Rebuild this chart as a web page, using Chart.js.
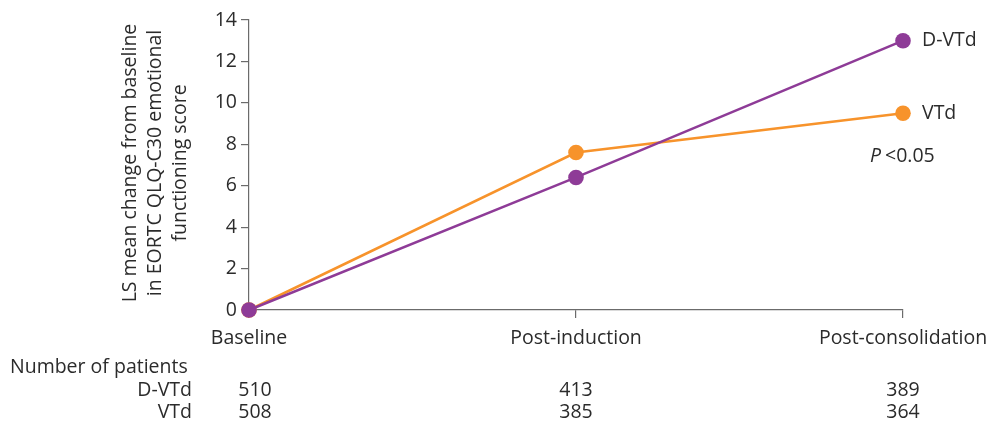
<!DOCTYPE html>
<html>
<head>
<meta charset="utf-8">
<script src="https://cdn.jsdelivr.net/npm/chart.js@4"></script>
<style>
html,body{margin:0;padding:0;background:#fff;}
#wrap{width:993px;height:423px;position:relative;}
</style>
</head>
<body>
<div id="wrap"><canvas id="c" width="993" height="423"></canvas></div>
<script>
const categories = ["Baseline", "Post-induction", "Post-consolidation"];
const dvtdValues = [0, 6.4, 13.0];
const vtdValues = [0, 7.6, 9.5];
const yTicks = [0, 2, 4, 6, 8, 10, 12, 14];
const seriesNames = ["D-VTd", "VTd"];
const dvtdPatients = [510, 413, 389];
const vtdPatients = [508, 385, 364];
const yTitle = ["LS mean change from baseline", "in EORTC QLQ-C30 emotional", "functioning score"];
const pText = "<0.05";

const PURPLE = "#8e3b97";
const ORANGE = "#f7932b";
const AXIS = "#6b6b6b";
const TXT = "#2b2b2b";
const FONT = "Open Sans";
const FS = 19.5;

const extras = {
  id: "extras",
  afterDraw(chart) {
    const ctx = chart.ctx;
    const x = chart.scales.x, y = chart.scales.y;
    ctx.save();
    ctx.fillStyle = TXT;
    ctx.font = FS + "px '" + FONT + "'";
    // y title
    ctx.save();
    ctx.translate(155, 163);
    ctx.rotate(-Math.PI / 2);
    ctx.textAlign = "center";
    ctx.textBaseline = "middle";
    yTitle.forEach((t, i) => ctx.fillText(t, 0, (i - 1) * 25));
    ctx.restore();
    // series labels at end
    ctx.textAlign = "left";
    ctx.textBaseline = "middle";
    const last = categories.length - 1;
    ctx.fillText(seriesNames[0], x.getPixelForValue(last) + 19, y.getPixelForValue(dvtdValues[last]));
    ctx.fillText(seriesNames[1], x.getPixelForValue(last) + 19, y.getPixelForValue(vtdValues[last]));
    // P value
    const px = x.getPixelForValue(last) - 33;
    const py = y.getPixelForValue(7.4);
    ctx.font = "italic " + FS + "px '" + FONT + "'";
    ctx.fillText("P", px, py);
    const pw = ctx.measureText("P").width + 4;
    ctx.font = FS + "px '" + FONT + "'";
    ctx.fillText(pText, px + pw, py);
    // table
    ctx.textBaseline = "middle";
    ctx.textAlign = "left";
    ctx.fillText("Number of patients", 10, 367);
    ctx.textAlign = "right";
    ctx.fillText(seriesNames[0], 192, 390);
    ctx.fillText(seriesNames[1], 192, 412);
    ctx.textAlign = "center";
    categories.forEach((c, i) => {
      const cx = x.getPixelForValue(i) + (i === 0 ? 6 : 0);
      ctx.fillText(String(dvtdPatients[i]), cx, 390);
      ctx.fillText(String(vtdPatients[i]), cx, 412);
    });
    ctx.restore();
  }
};

new Chart(document.getElementById("c"), {
  type: "line",
  data: {
    labels: categories,
    datasets: [
      {
        label: seriesNames[0],
        data: dvtdValues,
        borderColor: PURPLE,
        backgroundColor: PURPLE,
        borderWidth: 2.5,
        pointRadius: 7.8,
        pointBorderWidth: 0,
        pointBackgroundColor: PURPLE,
        tension: 0,
        clip: false
      },
      {
        label: seriesNames[1],
        data: vtdValues,
        borderColor: ORANGE,
        backgroundColor: ORANGE,
        borderWidth: 2.5,
        pointRadius: 7.8,
        pointBorderWidth: 0,
        pointBackgroundColor: ORANGE,
        tension: 0,
        clip: false
      }
    ]
  },
  options: {
    responsive: false,
    animation: false,
    layout: { padding: { left: 0, right: 90, top: 20, bottom: 73 } },
    plugins: { legend: { display: false }, tooltip: { enabled: false } },
    scales: {
      x: {
        offset: false,
        afterFit: s => { s.height = 40; s.paddingLeft = 0; s.paddingRight = 0; },
        grid: { drawOnChartArea: false, drawTicks: true, tickLength: 8, color: AXIS, lineWidth: 1.2 },
        border: { display: true, color: AXIS, width: 1.2 },
        ticks: { color: TXT, font: { family: FONT, size: FS }, padding: 9, maxRotation: 0, autoSkip: false }
      },
      y: {
        min: 0, max: 14,
        afterFit: s => { s.width = 249; s.paddingTop = 0; s.paddingBottom = 0; },
        afterBuildTicks: s => { s.ticks = yTicks.map(v => ({ value: v })); },
        grid: { drawOnChartArea: false, drawTicks: true, tickLength: 8, color: AXIS, lineWidth: 1.2 },
        border: { display: true, color: AXIS, width: 1.2 },
        ticks: { color: TXT, font: { family: FONT, size: FS }, padding: 4 }
      }
    }
  },
  plugins: [extras]
});
</script>
</body>
</html>
